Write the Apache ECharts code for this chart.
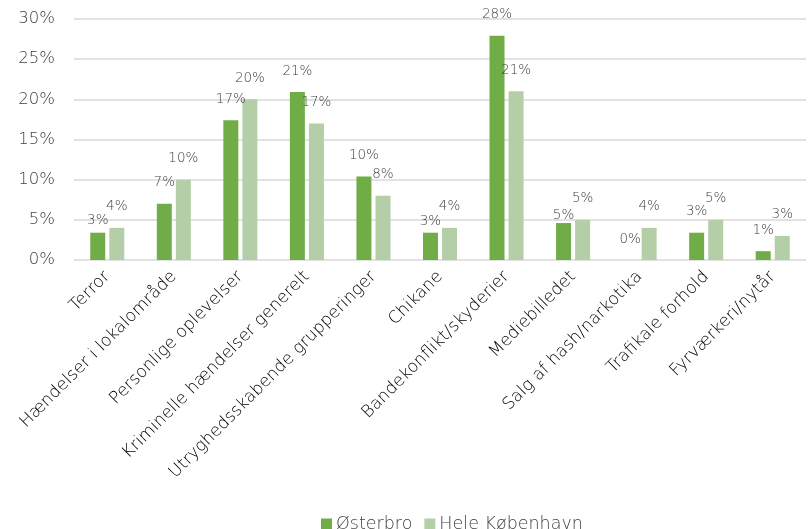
<!DOCTYPE html>
<html><head><meta charset="utf-8">
<script src="https://cdn.jsdelivr.net/npm/echarts@6/dist/echarts.min.js"></script>
<style>html,body{margin:0;padding:0;background:#fff}#c{width:808px;height:529px}</style>
</head><body><div id="c"></div>
<script>
const categories = ["Terror","Hændelser i lokalområde","Personlige oplevelser","Kriminelle hændelser generelt","Utryghedsskabende grupperinger","Chikane","Bandekonflikt/skyderier","Mediebilledet","Salg af hash/narkotika","Trafikale forhold","Fyrværkeri/nytår"];
const osterbro = [3.4, 7.0, 17.4, 20.9, 10.4, 3.4, 27.9, 4.6, 0, 3.4, 1.1];
const heleKbh = [4, 10, 20, 17, 8, 4, 21, 5, 4, 5, 3];
const yTicks = [0, 5, 10, 15, 20, 25, 30];
const seriesNames = ["Østerbro", "Hele København"];

const FONT = "DejaVu Sans";
const W = 300;
// label vertical tweaks (styling only) for a few Østerbro labels
const osLabelLift = {0: 5, 5: 4, 7: 1};

const chart = echarts.init(document.getElementById('c'), null, {renderer: 'canvas'});
function labelFmt(p){ return Math.round(p.value) + '%'; }
const baseLabel = {show: true, position: 'top', distance: 14, color: '#404040', fontSize: 13.5, fontWeight: W, fontFamily: FONT, formatter: labelFmt};

chart.setOption({
  animation: false,
  textStyle: {fontFamily: FONT},
  grid: {left: 74, right: 2, top: 19, bottom: 269, containLabel: false},
  legend: {
    data: seriesNames, left: 316, top: 510, itemWidth: 11, itemHeight: 11, itemGap: 12,
    icon: 'rect', textStyle: {color: '#404040', fontSize: 17.5, fontWeight: W, fontFamily: FONT, padding: [0,0,0,-1]}
  },
  xAxis: {
    type: 'category', data: categories,
    axisLine: {show: false}, axisTick: {show: false},
    axisLabel: {rotate: 45, interval: 0, margin: 14, color: '#000000', fontSize: 17, fontWeight: W, fontFamily: FONT}
  },
  yAxis: {
    type: 'value', min: yTicks[0], max: yTicks[yTicks.length-1], interval: 5,
    axisLine: {show: false}, axisTick: {show: false},
    splitLine: {lineStyle: {color: '#D9D9D9', width: 1.5}},
    axisLabel: {margin: 19, color: '#404040', fontSize: 16.5, fontWeight: W, fontFamily: FONT, formatter: v => v + '%'}
  },
  series: [
    {name: seriesNames[0], type: 'bar', barWidth: 15, barGap: '27%',
     itemStyle: {color: '#70AD47'},
     label: baseLabel,
     data: osterbro.map((v, i) => osLabelLift[i] !== undefined ? {value: v, label: {distance: osLabelLift[i]}} : v)},
    {name: seriesNames[1], type: 'bar', barWidth: 15,
     itemStyle: {color: '#B4CFA7'},
     label: baseLabel,
     data: heleKbh}
  ]
});
</script></body></html>
